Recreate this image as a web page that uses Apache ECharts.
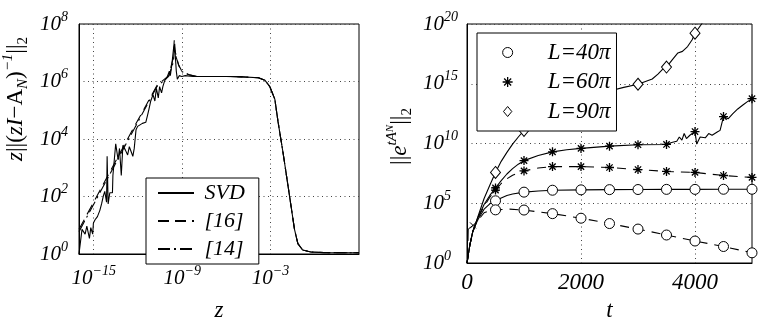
<!DOCTYPE html>
<html><head><meta charset="utf-8">
<script src="https://cdn.jsdelivr.net/npm/echarts@6/dist/echarts.min.js"></script>
<style>html,body{margin:0;padding:0;background:#fff}#c{width:763px;height:327px}</style>
</head><body><div id="c"></div>
<script>
const FONT = 'Liberation Serif';

// ---------- Left panel: z||(zI-A_N)^-1||_2 vs z ----------
const leftXTickExps = [-15, -9, -3];
const leftYTickExps = [0, 2, 4, 6, 8];
const leftLegendNames = ['SVD', '[16]', '[14]'];

const svdZ = [1e-16,1.6e-16,2.6e-16,3.4e-16,5.1e-16,6.3e-16,8.5e-16,9.5e-16,1.23e-15,1.78e-15,2.6e-15,3.4e-15,4.5e-15,5.6e-15,7.4e-15,8.1e-15,9.5e-15,1.23e-14,1.86e-14,2.0e-14,3.1e-14,4.5e-14,5.6e-14,7.4e-14,9.5e-14,1.41e-13,2.0e-13,2.6e-13,4.5e-13,5.6e-13,7.4e-13,9.5e-13,2.0e-12,3.4e-12,4.5e-12,5.6e-12,7.4e-12,1.05e-11,1.41e-11,1.78e-11,2.4e-11,2.95e-11,4.0e-11,4.9e-11,6.6e-11,9.5e-11,1.35e-10,1.58e-10,2.0e-10,2.6e-10,2.95e-10,3.4e-10,4.0e-10,4.7e-10,6.3e-10,9.5e-10,1.6e-9,5.6e-9,1e-6,1.2e-5,1.5e-4,4.2e-4,8.9e-4,1.95e-3,3.2e-3,7.1e-3,0.015,0.025,0.042,0.071,0.15,0.54,4.2,1000];
const svdY = [1,7.2,4.9,9.3,3.5,8.3,4.9,12,15.5,20,33,55,105,150,63,2500,55,135,135,540,6800,1900,4700,540,6000,4100,2800,5400,2500,4700,21000,27500,35000,38000,68000,1.1e5,2.1e5,3.5e5,2.1e5,5.8e5,2.7e5,6.6e5,4.0e5,6.6e5,1.1e6,1.4e6,2.3e6,1.6e6,3.9e6,1.4e7,1.8e7,8.3e6,2.3e6,1.2e6,1.6e6,1.5e6,1.6e6,1.5e6,1.5e6,1.45e6,1.35e6,1.1e6,6.6e5,2.4e5,4.0e4,3200,250,43,7.2,2.3,1.38,1.17,1.12,1.1];

const ref16Z = [1e-16,2.6e-13,2.0e-11,1.23e-10,2.4e-10,2.95e-10,3.4e-10,5.6e-10,9.5e-10,2.6e-9,1e-8,1e-6,1.2e-5,1.5e-4,4.2e-4,8.9e-4,1.95e-3,3.2e-3,7.1e-3,0.015,0.025,0.042,0.071,0.15,0.54,4.2,1000];
const ref16Y = [7.2,1.3e4,7.4e5,1.6e6,6.3e6,3.0e7,1.07e7,3.9e6,2.3e6,1.74e6,1.5e6,1.5e6,1.45e6,1.35e6,1.1e6,6.6e5,2.4e5,4.0e4,3200,250,43,7.2,2.3,1.38,1.17,1.12,1.1];

const ref14Z = [1e-16,2.6e-13,2.0e-11,1.23e-10,2.6e-10,2.95e-10,3.6e-10,6.0e-10,1.0e-9,3.0e-9,1e-8,1e-6,1.2e-5,1.5e-4,4.2e-4,8.9e-4,1.95e-3,3.2e-3,7.1e-3,0.015,0.025,0.042,0.071,0.15,0.54,4.2,1000];
const ref14Y = [6.0,1.1e4,6.8e5,1.5e6,5.0e6,1.6e7,8.0e6,3.5e6,2.2e6,1.7e6,1.5e6,1.5e6,1.45e6,1.35e6,1.1e6,6.6e5,2.4e5,4.0e4,3200,250,43,7.2,2.3,1.38,1.17,1.12,1.1];

// ---------- Right panel: ||e^{tA_N}||_2 vs t ----------
const rightXTicks = [0, 2000, 4000];
const rightXGrid = [2000, 4000];
const rightYTickExps = [0, 5, 10, 15, 20];
const rightLegendNames = ['L=40\u03c0', 'L=60\u03c0', 'L=90\u03c0'];
const markerT = [500,1000,1500,2000,2500,3000,3500,4000,4500,5000];

const t40s = [0,50,100,150,200,300,400,500,600,700,800,1000,1250,1500,2000,2500,3000,3500,4000,4500,5000];
const y40s = [1,32,400,1600,5000,3.2e4,8.9e4,1.6e5,2.8e5,4.5e5,6.0e5,8.5e5,1.07e6,1.23e6,1.32e6,1.38e6,1.41e6,1.45e6,1.45e6,1.48e6,1.48e6];

const t40d = [0,50,100,150,200,300,400,500,750,1000,1500,2000,2500,3000,3500,4000,4500,5000];
const y40d = [1,32,400,1600,4000,1.6e4,2.5e4,2.8e4,3.2e4,2.7e4,1.35e4,5600,2000,690,220,69,24,7.1];

const t60s = [0,50,100,150,200,300,400,500,600,700,800,900,1000,1250,1500,1750,2000,2500,3000,3500,3590,3680,3725,3770,3810,3850,3910,4000,4030,4090,4180,4240,4300,4390,4440,4500,4580,4660,4750,4840,4920,5000];
const y60s = [1,32,400,2000,7900,7.9e4,4.5e5,1.9e6,7.9e6,2.8e7,7.9e7,1.86e8,3.7e8,1e9,2.0e9,3.0e9,3.9e9,6.0e9,7.9e9,8.3e9,1.2e10,1.55e10,3.5e10,1.9e10,6.8e10,2.6e10,4.9e10,1e11,8.9e9,3.5e10,3.0e10,6.8e10,4.9e10,9.1e10,1.26e11,1.8e12,1.17e12,3.0e12,7.8e12,1.66e13,3.2e13,5.6e13];

const t60d = [0,50,100,150,200,300,400,500,600,700,800,1000,1250,1500,2000,2500,3000,3500,4000,4500,5000];
const y60d = [1,32,400,2000,7100,5.6e4,3.2e5,1.26e6,4.5e6,1.12e7,2.2e7,5.1e7,8.9e7,1.17e8,1.17e8,9.8e7,6.6e7,4.6e7,3.8e7,2.1e7,1.45e7];

const t90 = [0,50,100,150,200,300,400,500,600,700,800,900,1000,1500,2000,2500,2750,3000,3250,3350,3430,3500,3600,3700,3780,3870,3950,4000,4100,4200];
const y90 = [1,32,400,2000,1e4,2.5e5,3.2e6,3.8e7,3.2e8,1.8e9,8.9e9,3.5e10,1.26e11,7.9e12,7.9e13,2.5e14,5.0e14,9.1e14,2.5e15,6.3e15,1.6e16,2.5e16,1e17,3.8e17,5.1e17,1.3e18,4.8e18,1.7e19,7.9e19,4e20];

const tX = [18, 22, 105];
const yX = [70, 700, 1400];
const xMarkT = [105];

// ---------- helpers ----------
const zip = (a, b) => a.map((v, i) => [v, b[i]]);
const pow10 = e => Math.pow(10, e);
const MINUS = '\u2212';
function powLabel(v) {
  const e = Math.round(Math.log10(v));
  return '{b|10}{s|' + (e < 0 ? MINUS : '') + Math.abs(e) + '}';
}
const tickRich = {
  b: {fontFamily: FONT, fontStyle: 'italic', fontSize: 21, lineHeight: 28, verticalAlign: 'middle', color: '#000'},
  s: {fontFamily: FONT, fontStyle: 'italic', fontSize: 14, lineHeight: 14, verticalAlign: 'top', color: '#000'}
};
const gridLine = {show: true, lineStyle: {type: [1, 3.5], color: '#444', width: 1}};
const axisLineBlack = {show: true, lineStyle: {color: '#000', width: 1}};
const STAR = 'path://M5,0L5,10M0,5L10,5M1.5,1.5L8.5,8.5M1.5,8.5L8.5,1.5';
const DIAMOND = 'path://M5,0L10,6L5,12L0,6Z';
const XMARK = 'path://M0,0L10,10M0,10L10,0';
const nameRich = {
  gap: {width: 80, fontSize: 10},
  gap2: {width: 14, fontSize: 10},
  i: {fontFamily: FONT, fontStyle: 'italic', fontSize: 23, lineHeight: 30, verticalAlign: 'middle', color: '#000'},
  n: {fontFamily: FONT, fontSize: 23, lineHeight: 30, verticalAlign: 'middle', color: '#000'},
  sp: {fontFamily: FONT, fontStyle: 'italic', fontSize: 15, lineHeight: 14, verticalAlign: 'top', color: '#000'},
  sps: {fontFamily: FONT, fontStyle: 'italic', fontSize: 11, lineHeight: 24, verticalAlign: 'top', color: '#000'},
  sb: {fontFamily: FONT, fontStyle: 'italic', fontSize: 15, lineHeight: 14, verticalAlign: 'bottom', color: '#000'},
  sbn: {fontFamily: FONT, fontSize: 15, lineHeight: 14, verticalAlign: 'bottom', color: '#000'}
};
const legendRich = {
  g: {width: 30, fontSize: 10},
  t: {fontFamily: FONT, fontStyle: 'italic', fontSize: 23, lineHeight: 22, color: '#000'}
};

function markerSymbol(sym) {
  return function (value) { return markerT.indexOf(value[0]) >= 0 ? sym : 'none'; };
}
const openStyle = {color: '#fff', borderColor: '#000', borderWidth: 1};
const starStyle = {color: '#000', borderColor: '#000', borderWidth: 1.3};

const option = {
  animation: false,
  backgroundColor: '#fff',
  grid: [
    {left: 74, top: 24, width: 285, height: 242, show: true, borderColor: '#000', borderWidth: 1},
    {left: 467, top: 24, width: 285, height: 242, show: true, borderColor: '#000', borderWidth: 1}
  ],
  xAxis: [
    {
      type: 'log', gridIndex: 0, logBase: 10, min: 1e-16, max: 1e3,
      axisLine: axisLineBlack,
      axisTick: {show: false, customValues: leftXTickExps.map(pow10)},
      splitLine: gridLine,
      axisLabel: {customValues: leftXTickExps.map(pow10), formatter: powLabel, rich: tickRich, margin: 10},
      name: 'z', nameLocation: 'middle', nameGap: 45,
      nameTextStyle: {fontFamily: FONT, fontStyle: 'italic', fontSize: 23, color: '#000'}
    },
    {
      type: 'value', gridIndex: 1, min: 0, max: 5000,
      axisLine: axisLineBlack,
      axisTick: {show: false, customValues: rightXGrid},
      splitLine: gridLine,
      axisLabel: {customValues: rightXTicks, formatter: v => String(v), fontFamily: FONT, fontStyle: 'italic', fontSize: 23, color: '#000', margin: 8},
      name: 't', nameLocation: 'middle', nameGap: 36,
      nameTextStyle: {fontFamily: FONT, fontStyle: 'italic', fontSize: 23, color: '#000'}
    }
  ],
  yAxis: [
    {
      type: 'log', gridIndex: 0, logBase: 10, min: 1, max: 1e8,
      axisLine: axisLineBlack,
      axisTick: {show: false, customValues: leftYTickExps.map(pow10)},
      splitLine: gridLine,
      axisLabel: {customValues: leftYTickExps.map(pow10), formatter: powLabel, rich: tickRich, margin: 39, align: 'left'},
      name: '{gap| }{i|z}{n|||(}{i|zI}{n|' + MINUS + 'A}{sb|N}{n|)}{sp|' + MINUS + '1}{n|||}{sbn|2}',
      nameLocation: 'middle', nameRotate: 90, nameGap: 48,
      nameTextStyle: {rich: nameRich}
    },
    {
      type: 'log', gridIndex: 1, logBase: 10, min: 1, max: 1e20,
      axisLine: axisLineBlack,
      axisTick: {show: false, customValues: rightYTickExps.map(pow10)},
      splitLine: gridLine,
      axisLabel: {customValues: rightYTickExps.map(pow10), formatter: powLabel, rich: tickRich, margin: 44, align: 'left'},
      name: '{gap2| }{n|||}{i|e}{sp|tA}{sps|N}{n|||}{sbn|2}',
      nameLocation: 'middle', nameRotate: 90, nameGap: 52,
      nameTextStyle: {rich: nameRich}
    }
  ],
  legend: [
    {
      data: leftLegendNames, orient: 'vertical', left: 146, top: 178,
      backgroundColor: '#fff', borderColor: '#000', borderWidth: 1, borderRadius: 0,
      padding: [4, 14, 4, 11], itemGap: 6, itemWidth: 36, itemHeight: 14,
      itemStyle: {opacity: 0},
      formatter: name => ' ' + name,
      textStyle: {fontFamily: FONT, fontStyle: 'italic', fontSize: 22, lineHeight: 20, color: '#000'}
    },
    {
      data: [
        {name: rightLegendNames[0], icon: 'circle', itemStyle: openStyle},
        {name: rightLegendNames[1], icon: STAR, itemStyle: starStyle},
        {name: rightLegendNames[2], icon: DIAMOND, itemStyle: openStyle}
      ],
      orient: 'vertical', left: 477, top: 33,
      backgroundColor: '#fff', borderColor: '#000', borderWidth: 1, borderRadius: 0,
      padding: [8, 6, 8, 25], itemGap: 6.5, itemWidth: 10, itemHeight: 10,
      formatter: name => '{g| }{t|' + name + '}',
      textStyle: {fontFamily: FONT, fontStyle: 'italic', fontSize: 23, lineHeight: 22, color: '#000', rich: legendRich}
    }
  ],
  series: [
    {name: 'SVD', type: 'line', xAxisIndex: 0, yAxisIndex: 0, data: zip(svdZ, svdY), symbol: 'none',
     lineStyle: {color: '#000', width: 1.1, type: 'solid'}, itemStyle: {color: '#000'}, z: 3},
    {name: '[16]', type: 'line', xAxisIndex: 0, yAxisIndex: 0, data: zip(ref16Z, ref16Y), symbol: 'none',
     lineStyle: {color: '#000', width: 1.1, type: [11, 6]}, itemStyle: {color: '#000'}},
    {name: '[14]', type: 'line', xAxisIndex: 0, yAxisIndex: 0, data: zip(ref14Z, ref14Y), symbol: 'none',
     lineStyle: {color: '#000', width: 1.1, type: [12, 4, 2, 4]}, itemStyle: {color: '#000'}},

    {name: rightLegendNames[0], type: 'line', xAxisIndex: 1, yAxisIndex: 1, data: zip(t40s, y40s),
     symbol: markerSymbol('circle'), symbolSize: 10, showAllSymbol: true,
     lineStyle: {color: '#000', width: 1.1}, itemStyle: openStyle},
    {name: rightLegendNames[0], type: 'line', xAxisIndex: 1, yAxisIndex: 1, data: zip(t40d, y40d),
     symbol: markerSymbol('circle'), symbolSize: 10, showAllSymbol: true,
     lineStyle: {color: '#000', width: 1.1, type: [9, 7]}, itemStyle: openStyle},
    {name: rightLegendNames[1], type: 'line', xAxisIndex: 1, yAxisIndex: 1, data: zip(t60s, y60s),
     symbol: markerSymbol(STAR), symbolSize: 9, showAllSymbol: true,
     lineStyle: {color: '#000', width: 1.1}, itemStyle: starStyle},
    {name: rightLegendNames[1], type: 'line', xAxisIndex: 1, yAxisIndex: 1, data: zip(t60d, y60d),
     symbol: markerSymbol(STAR), symbolSize: 9, showAllSymbol: true,
     lineStyle: {color: '#000', width: 1.1, type: [9, 7]}, itemStyle: starStyle},
    {name: rightLegendNames[2], type: 'line', xAxisIndex: 1, yAxisIndex: 1, data: zip(t90, y90),
     symbol: markerSymbol(DIAMOND), symbolSize: [10, 12], showAllSymbol: true,
     lineStyle: {color: '#000', width: 1.1}, itemStyle: openStyle},
    {name: 'x', type: 'line', xAxisIndex: 1, yAxisIndex: 1, data: zip(tX, yX),
     symbol: function (v) { return xMarkT.indexOf(v[0]) >= 0 ? XMARK : 'none'; }, symbolSize: 6, showAllSymbol: true,
     lineStyle: {color: '#000', width: 1}, itemStyle: {color: '#000', borderColor: '#000', borderWidth: 1}}
  ]
};
const chart = echarts.init(document.getElementById('c'));
chart.setOption(option);
</script></body></html>
